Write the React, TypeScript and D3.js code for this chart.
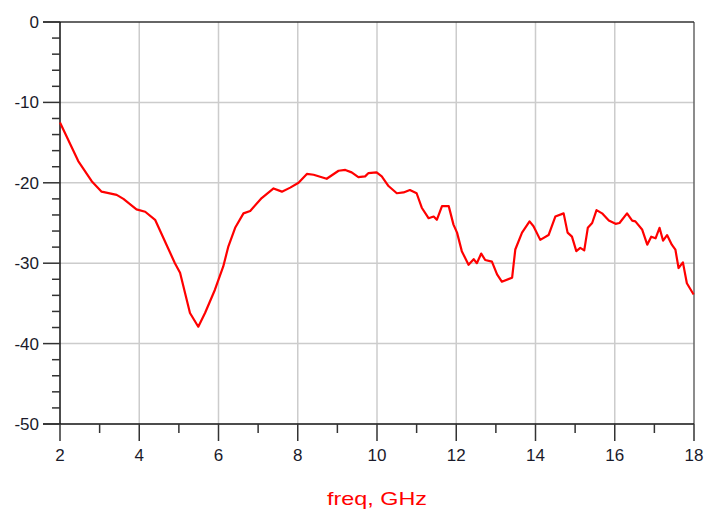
import * as d3 from 'd3'

const freq = [
  2.0, 2.46, 2.8, 3.05, 3.43, 3.6, 3.93, 4.15, 4.4, 4.65, 4.9, 5.03, 5.28, 5.49, 5.66, 5.91,
  6.12, 6.25, 6.42, 6.63, 6.8, 7.09, 7.39, 7.6, 7.81, 8.02, 8.23, 8.4, 8.73, 9.03, 9.2, 9.36,
  9.53, 9.7, 9.78, 9.99, 10.12, 10.29, 10.5, 10.67, 10.83, 11.0, 11.13, 11.3, 11.43, 11.51,
  11.64, 11.81, 11.93, 12.02, 12.14, 12.31, 12.44, 12.52, 12.63, 12.73, 12.9, 13.03, 13.15,
  13.41, 13.49, 13.66, 13.85, 13.95, 14.12, 14.33, 14.5, 14.71, 14.81, 14.92, 15.03, 15.13,
  15.23, 15.32, 15.43, 15.54, 15.68, 15.85, 16.02, 16.12, 16.31, 16.44, 16.52, 16.69, 16.82,
  16.92, 17.03, 17.13, 17.22, 17.32, 17.44, 17.53, 17.61, 17.72, 17.82, 17.99,
]
const s11 = [
  -12.5, -17.3, -19.8, -21.1, -21.5, -22.0, -23.3, -23.6, -24.6, -27.3, -30.0, -31.2, -36.2, -37.9, -36.2, -33.3,
  -30.4, -27.9, -25.6, -23.8, -23.5, -21.9, -20.7, -21.1, -20.6, -20.0, -18.9, -19.0, -19.5, -18.5, -18.4, -18.7,
  -19.3, -19.2, -18.8, -18.7, -19.2, -20.4, -21.3, -21.2, -20.9, -21.3, -23.1, -24.4, -24.2, -24.6,
  -22.9, -22.9, -25.2, -26.2, -28.5, -30.2, -29.5, -30.0, -28.8, -29.6, -29.8, -31.4, -32.3,
  -31.8, -28.3, -26.2, -24.8, -25.4, -27.1, -26.5, -24.2, -23.8, -26.2, -26.7, -28.5, -28.1,
  -28.4, -25.6, -25.0, -23.4, -23.8, -24.7, -25.1, -25.0, -23.8, -24.7, -24.8, -25.8, -27.7,
  -26.7, -26.9, -25.6, -27.2, -26.5, -27.7, -28.3, -30.6, -29.9, -32.5, -33.9,
]

const xTicks = [2, 4, 6, 8, 10, 12, 14, 16, 18]
const xMinor = [3, 5, 7, 9, 11, 13, 15, 17]
const yTicks = [0, -10, -20, -30, -40, -50]
const yMinor = d3.range(-48, 0, 2).filter(v => v % 10 !== 0)

const W = 721, H = 511
const L = 60, R = 694, T = 22, B = 424

export default function App(){
  const x = d3.scaleLinear().domain([2, 18]).range([L, R])
  const y = d3.scaleLinear().domain([-50, 0]).range([B, T])
  const pts: [number, number][] = freq.map((f, i) => [f, s11[i]])
  const line = d3.line<[number, number]>().x(d => x(d[0])).y(d => y(d[1])).curve(d3.curveLinear)
  const font = '"Liberation Sans", Arial, sans-serif'

  return (
    <svg width={W} height={H} style={{ position: 'absolute', left: 0, top: 0, background: '#fff' }} fontFamily={font}>
      {/* grid */}
      {xTicks.slice(1, -1).map(t => (
        <line key={'gx'+t} x1={x(t)} x2={x(t)} y1={T} y2={B} stroke="#cccccc" strokeWidth={1.5} />
      ))}
      {yTicks.slice(1, -1).map(t => (
        <line key={'gy'+t} x1={L} x2={R} y1={y(t)} y2={y(t)} stroke="#cccccc" strokeWidth={1.5} />
      ))}
      {/* frame */}
      <line x1={R} x2={R} y1={T} y2={B} stroke="#666" strokeWidth={1.5} />
      <line x1={43} x2={R} y1={T} y2={T} stroke="#333" strokeWidth={1.5} />
      <line x1={43} x2={R} y1={B} y2={B} stroke="#111" strokeWidth={1.5} />
      <line x1={L} x2={L} y1={T} y2={B} stroke="#111" strokeWidth={1.5} />
      {/* y ticks */}
      {yTicks.map(t => (
        <g key={'yt'+t}>
          <line x1={43} x2={L} y1={y(t)} y2={y(t)} stroke="#333" strokeWidth={1.5} />
          <text x={39} y={y(t) + 6} textAnchor="end" fontSize={17} fill="#1a1a2a">{t}</text>
        </g>
      ))}
      {yMinor.map(t => (
        <line key={'ym'+t} x1={52} x2={L} y1={y(t)} y2={y(t)} stroke="#333" strokeWidth={1.5} />
      ))}
      {/* x ticks */}
      {xTicks.map(t => (
        <g key={'xt'+t}>
          <line x1={x(t)} x2={x(t)} y1={B} y2={B + 17} stroke="#333" strokeWidth={1.5} />
          <text x={x(t)} y={461} textAnchor="middle" fontSize={17} fill="#1a1a2a">{t}</text>
        </g>
      ))}
      {xMinor.map(t => (
        <line key={'xm'+t} x1={x(t)} x2={x(t)} y1={B} y2={B + 9} stroke="#333" strokeWidth={1.5} />
      ))}
      {/* curve */}
      <path d={line(pts) ?? ''} fill="none" stroke="#ff0000" strokeWidth={2.2} strokeLinejoin="round" />
      {/* axis title */}
      <text x={377} y={505} textAnchor="middle" fontSize={19} fill="#ff0000" textLength={100} lengthAdjust="spacingAndGlyphs">freq, GHz</text>
    </svg>
  )
}
